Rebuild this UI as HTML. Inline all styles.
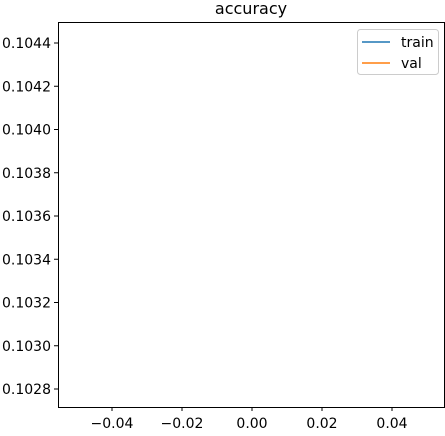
<!DOCTYPE html>
<html><head><meta charset="utf-8"><style>
body{margin:0;background:#fff;}
svg text{font-family:"DejaVu Sans","Liberation Sans",sans-serif;}
</style></head><body>
<svg id="chart" width="445" height="431" viewBox="0 0 445 431" xmlns="http://www.w3.org/2000/svg">
<rect width="445" height="431" fill="#fff"/>
<text x="251" y="14" font-size="16" text-anchor="middle">accuracy</text>
<g id="plot"></g>
<rect x="58.5" y="22.5" width="386" height="385" fill="none" stroke="#000" stroke-width="1"/>
<g>
<rect x="357.5" y="29.5" width="81" height="45" rx="3" fill="#fff" fill-opacity="0.8" stroke="#ccc"/>
<line x1="362" y1="42" x2="390" y2="42" stroke="#1f77b4" stroke-width="1.5"/>
<text x="401" y="47" font-size="14">train</text>
<line x1="362" y1="63" x2="390" y2="63" stroke="#ff7f0e" stroke-width="1.5"/>
<text x="401" y="68" font-size="14">val</text>
</g>
</svg>
<script>
const epochs = [0];
const trainAcc = [0.10359];
const valAcc = [0.10359];
const xTicks = [-0.04, -0.02, 0.00, 0.02, 0.04];
const yTicks = [0.1028, 0.1030, 0.1032, 0.1034, 0.1036, 0.1038, 0.1040, 0.1042, 0.1044];
const NS = "http://www.w3.org/2000/svg";
const g = document.getElementById('plot');
function xs(v){ return 252 + v * 3500; }
function ys(v){ return 216 - (v - 0.1036) * 216250; }
function mk(t, a){ const e = document.createElementNS(NS, t); for (const k in a) e.setAttribute(k, a[k]); g.appendChild(e); return e; }
xTicks.forEach(v => {
  const x = xs(v);
  const l = mk('line', {x1:x, y1:407, x2:x, y2:411, stroke:'#000'});
  
  
  const t = mk('text', {x:x, y:428, 'font-size':14, 'text-anchor':'middle'});
  t.textContent = (v < 0 ? '\u2212' : '') + Math.abs(v).toFixed(2);
  
  
});
yTicks.forEach(v => {
  const y = ys(v);
  const l = mk('line', {x1:54, y1:y, x2:58, y2:y, stroke:'#000'});
  
  
  const t = mk('text', {x:51, y:y + 5, 'font-size':14, 'text-anchor':'end'});
  t.textContent = v.toFixed(4);
  
  
});
function series(arr, color, name){
  const d = arr.map((v, i) => (i ? 'L' : 'M') + xs(epochs[i]) + ' ' + ys(v)).join(' ');
  const p = mk('path', {d:d, stroke:color, 'stroke-width':1.5, fill:'none'});
  
  
}
series(trainAcc, '#1f77b4', 'train-line');
series(valAcc, '#ff7f0e', 'val-line');
</script>
</body></html>
